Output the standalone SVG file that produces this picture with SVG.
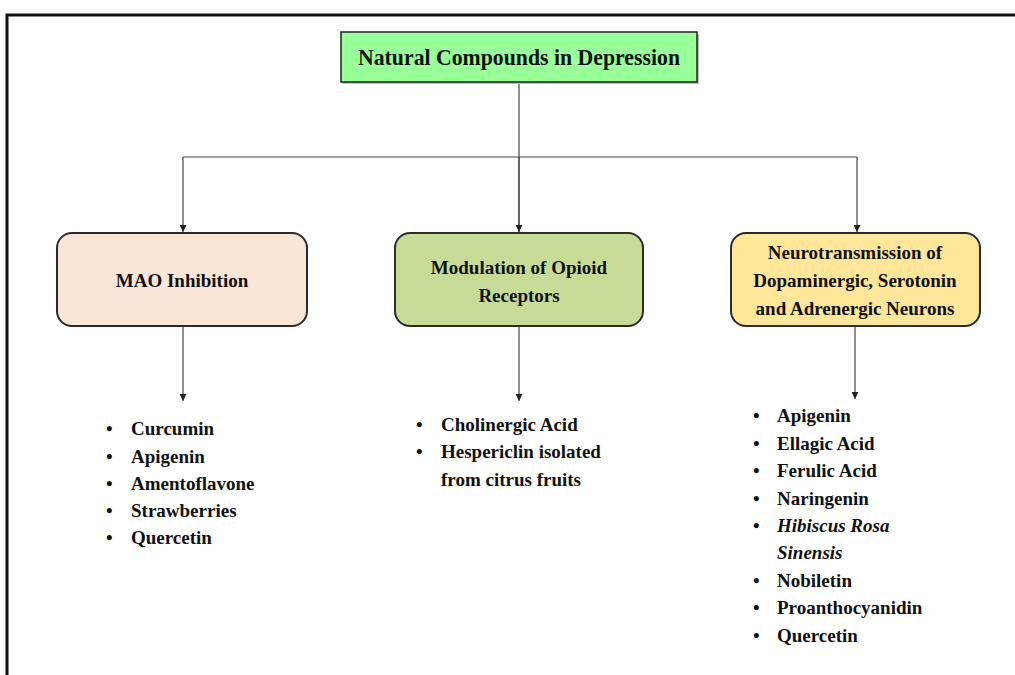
<svg xmlns="http://www.w3.org/2000/svg" width="1015" height="675" viewBox="0 0 1015 675">
<style>
.t{font-family:"Liberation Serif","Times New Roman",serif;font-weight:bold;fill:#111}
.box{stroke:#2b2b2b;stroke-width:2}
.lst{font-family:"Liberation Serif","Times New Roman",serif;font-weight:bold;font-size:19px;fill:#111}
.it{font-style:italic}
.con{fill:none;stroke:#444;stroke-width:1.2}
</style>
<defs>
<marker id="ah" viewBox="0 0 10 10" refX="10" refY="5" markerWidth="7" markerHeight="7" markerUnits="userSpaceOnUse" orient="auto">
<path d="M0,0 L10,5 L0,10 z" fill="#222"/>
</marker>
</defs>
<rect width="1015" height="675" fill="#fff"/>
<path d="M7,675 V15 H1015" fill="none" stroke="#111" stroke-width="3"/>
<g id="connectors">
<path class="con" d="M519,82 V232"/>
<path class="con" d="M183,157 H857"/>
<path class="con" d="M183,157 V232" marker-end="url(#ah)"/>
<path class="con" d="M519,157 V232" marker-end="url(#ah)"/>
<path class="con" d="M857,157 V232" marker-end="url(#ah)"/>
<path class="con" d="M183,326 V401" marker-end="url(#ah)"/>
<path class="con" d="M519,326 V401" marker-end="url(#ah)"/>
<path class="con" d="M855,326 V399" marker-end="url(#ah)"/>
</g>
<g id="title">
<rect x="343" y="34" width="356" height="50" fill="#bbb"/>
<rect x="341" y="32" width="356" height="50" fill="#99ff99" stroke="#222" stroke-width="1.5"/>
<text class="t" x="519" y="65" font-size="23" text-anchor="middle" textLength="322" lengthAdjust="spacingAndGlyphs">Natural Compounds in Depression</text>
</g>
<g id="mao">
<rect class="box" x="57" y="233" width="250" height="93" rx="15" fill="#fbe5d6"/>
<text class="t" x="182" y="287" font-size="19" text-anchor="middle">MAO Inhibition</text>
</g>
<g id="opioid">
<rect class="box" x="395" y="233" width="248" height="93" rx="15" fill="#c6dc96"/>
<text class="t" x="519" y="274" font-size="19" text-anchor="middle">Modulation of Opioid</text>
<text class="t" x="519" y="302" font-size="19" text-anchor="middle">Receptors</text>
</g>
<g id="neuro">
<rect class="box" x="731" y="233" width="249" height="93" rx="15" fill="#ffe699"/>
<text class="t" x="855" y="259" font-size="19" text-anchor="middle">Neurotransmission of</text>
<text class="t" x="855" y="287" font-size="19" text-anchor="middle">Dopaminergic, Serotonin</text>
<text class="t" x="855" y="315" font-size="19" text-anchor="middle">and Adrenergic Neurons</text>
</g>
<g id="list-mao" class="lst">
<text x="106" y="435">•</text><text x="131" y="435">Curcumin</text>
<text x="106" y="463">•</text><text x="131" y="463">Apigenin</text>
<text x="106" y="490">•</text><text x="131" y="490">Amentoflavone</text>
<text x="106" y="517">•</text><text x="131" y="517">Strawberries</text>
<text x="106" y="544">•</text><text x="131" y="544">Quercetin</text>
</g>
<g id="list-opioid" class="lst">
<text x="416" y="431">•</text><text x="441" y="431">Cholinergic Acid</text>
<text x="416" y="458">•</text><text x="441" y="458">Hespericlin isolated</text>
<text x="441" y="486">from citrus fruits</text>
</g>
<g id="list-neuro" class="lst">
<text x="753" y="422">•</text><text x="777" y="422">Apigenin</text>
<text x="753" y="450">•</text><text x="777" y="450">Ellagic Acid</text>
<text x="753" y="477">•</text><text x="777" y="477">Ferulic Acid</text>
<text x="753" y="505">•</text><text x="777" y="505">Naringenin</text>
<text x="753" y="532">•</text><text x="777" y="532" class="it">Hibiscus Rosa</text>
<text x="777" y="559" class="it">Sinensis</text>
<text x="753" y="587">•</text><text x="777" y="587">Nobiletin</text>
<text x="753" y="614">•</text><text x="777" y="614">Proanthocyanidin</text>
<text x="753" y="642">•</text><text x="777" y="642">Quercetin</text>
</g>
</svg>
